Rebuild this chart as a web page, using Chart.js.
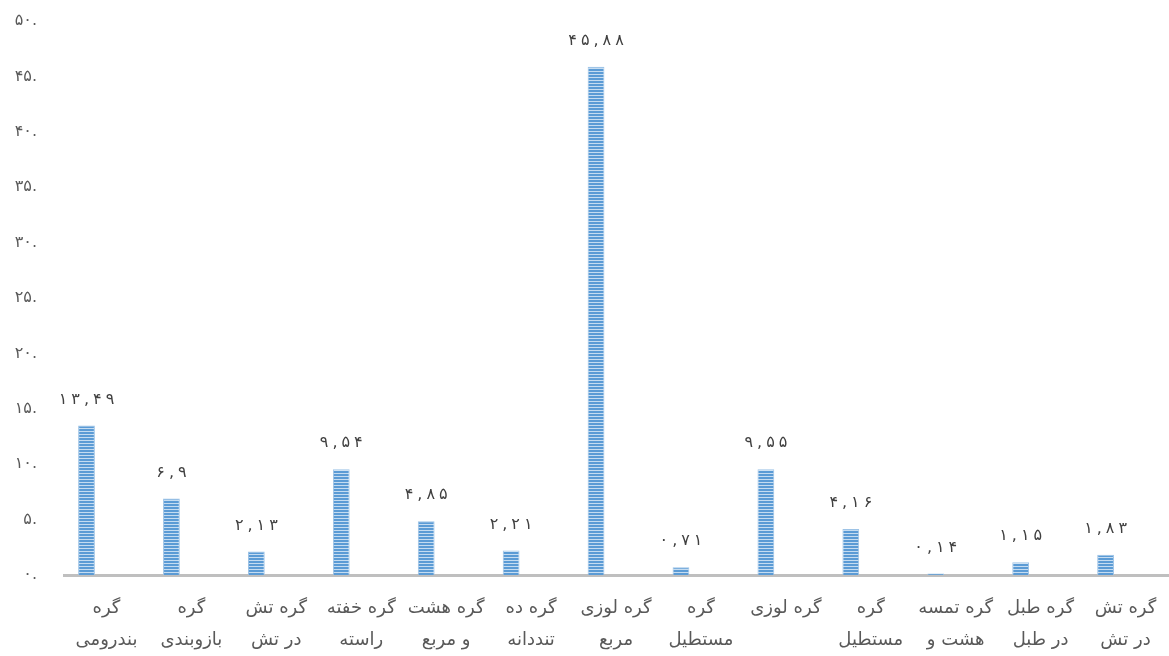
<!DOCTYPE html>
<html lang="fa">
<head>
<meta charset="utf-8">
<title>گره‌ها</title>
<script src="https://cdn.jsdelivr.net/npm/chart.js@4.4.1/dist/chart.umd.min.js"></script>
<style>
  html, body { margin: 0; padding: 0; background: #ffffff; }
  #wrap { width: 1169px; height: 656px; position: relative; }
</style>
</head>
<body>
<div id="wrap"><canvas id="knotChart"></canvas></div>
<script>
// knot types (two-line axis labels)
var categories = [
    ['گره', 'بندرومی'],
    ['گره', 'بازوبندی'],
    ['گره تش', 'در تش'],
    ['گره خفته', 'راسته'],
    ['گره هشت', 'و مربع'],
    ['گره ده', 'تنددانه'],
    ['گره لوزی', 'مربع'],
    ['گره', 'مستطیل'],
    ['گره لوزی'],
    ['گره', 'مستطیل'],
    ['گره تمسه', 'هشت و'],
    ['گره طبل', 'در طبل'],
    ['گره تش', 'در تش']
];

var values = [13.49, 6.9, 2.13, 9.54, 4.85, 2.21, 45.88, 0.71, 9.55, 4.16, 0.14, 1.15, 1.83];

// second series of the cluster has no values
var emptySeries = [null, null, null, null, null, null, null, null, null, null, null, null, null];

var yTickLabels = ['۰.', '۵.', '۱۰.', '۱۵.', '۲۰.', '۲۵.', '۳۰.', '۳۵.', '۴۰.', '۴۵.', '۵۰.'];

var faDigits = ['۰', '۱', '۲', '۳', '۴', '۵', '۶', '۷', '۸', '۹'];

function toFa(v) {
    return String(v).replace('.', ',').replace(/\d/g, function(d) { return faDigits[+d]; });
}

// striped fill for the bars
function stripePattern() {
    var c = document.createElement('canvas');
    c.width = 4;
    c.height = 3;
    var x = c.getContext('2d');
    x.fillStyle = '#5b9bd5';
    x.fillRect(0, 0, 4, 3);
    x.fillStyle = '#c5dcf1';
    x.fillRect(0, 2, 4, 1);
    return x.createPattern(c, 'repeat');
}

// draws text one character at a time with a gap between characters
function spacedText(ctx, str, cx, cy, gap) {
    var chars = str.split('');
    var widths = chars.map(function(ch) { return ctx.measureText(ch).width; });
    var total = widths.reduce(function(a, b) { return a + b; }, 0) + gap * (chars.length - 1);
    var x = cx - total / 2;
    chars.forEach(function(ch, i) {
        ctx.fillText(ch, x, cy);
        x += widths[i] + gap;
    });
}

var valueLabels = {
    id: 'valueLabels',
    afterDatasetsDraw: function(chart) {
        var ctx = chart.ctx;
        var meta = chart.getDatasetMeta(0);
        ctx.save();
        ctx.font = '16px "DejaVu Sans"';
        ctx.fillStyle = '#404040';
        ctx.textAlign = 'left';
        ctx.textBaseline = 'middle';
        meta.data.forEach(function(bar, i) {
            spacedText(ctx, toFa(values[i]), bar.x, bar.y - 26, 4);
        });
        ctx.restore();
    }
};

var ctx = document.getElementById('knotChart').getContext('2d');
new Chart(ctx, {
    type: 'bar',
    data: {
        labels: categories,
        datasets: [{
            data: values,
            backgroundColor: stripePattern(),
            borderColor: '#9dc3e6',
            borderWidth: 1,
            barPercentage: 0.42,
            categoryPercentage: 0.94
        }, {
            data: emptySeries,
            backgroundColor: '#ed7d31',
            barPercentage: 0.42,
            categoryPercentage: 0.94
        }]
    },
    options: {
        responsive: true,
        maintainAspectRatio: false,
        animation: false,
        layout: { padding: { top: 21, right: 1, bottom: 2, left: 0 } },
        plugins: {
            legend: { display: false },
            tooltip: { enabled: false }
        },
        scales: {
            x: {
                grid: { display: false, drawTicks: false },
                border: { display: true, color: '#bfbfbf', width: 3 },
                ticks: {
                    color: '#595959',
                    padding: 17,
                    maxRotation: 0,
                    autoSkip: false,
                    font: { family: 'DejaVu Sans', size: 18, lineHeight: 1.78 }
                },
                afterFit: function(scale) {
                    scale.height = 79;
                    scale.paddingLeft = 0;
                    scale.paddingRight = 0;
                }
            },
            y: {
                min: 0,
                max: 50,
                grid: { display: false, drawTicks: false },
                border: { display: false },
                ticks: {
                    stepSize: 5,
                    color: '#595959',
                    padding: 27,
                    font: { family: 'DejaVu Sans', size: 16 },
                    callback: function(v, i) { return yTickLabels[i]; }
                },
                afterFit: function(scale) {
                    scale.width = 64;
                    scale.paddingTop = 0;
                    scale.paddingBottom = 0;
                }
            }
        }
    },
    plugins: [valueLabels]
});
</script>
</body>
</html>
